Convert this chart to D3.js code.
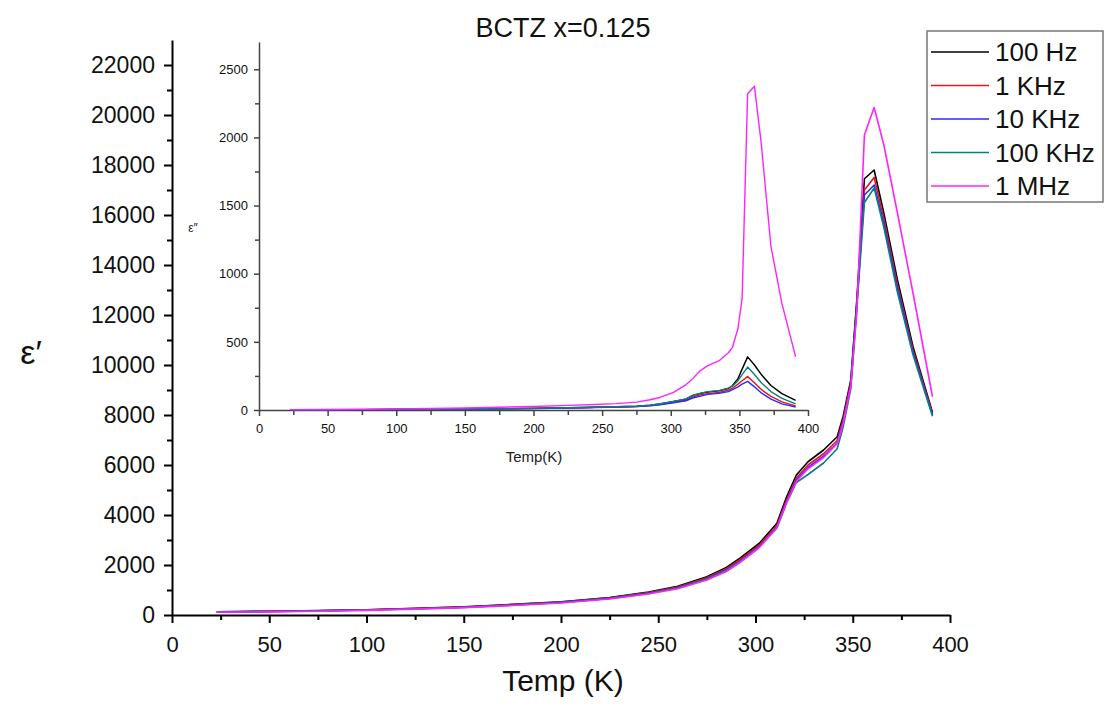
<!DOCTYPE html>
<html>
<head>
    <meta charset="utf-8">
    <title>BCTZ x=0.125</title>
    <script type="text/javascript" src="https://cdn.jsdelivr.net/npm/d3@7"></script>
    <style>
        body { margin: 0; background: #fff; }
        svg { font-family: Arial, "Liberation Sans", sans-serif; }
    </style>
</head>

<body>

<script type="text/javascript">
    // temperatures (K) shared by all series
    var temps = [23, 50, 75, 100, 125, 150, 175, 200, 225, 245, 260, 275, 285, 292, 302,
                 311, 316, 321, 327, 335, 342, 345, 349, 352, 356, 361, 366, 373, 381, 391];

    // real permittivity (main plot)
    var real100Hz  = [130, 150, 175, 210, 265, 330, 425, 530, 700, 920, 1150, 1530, 1900, 2270, 2870,
                      3670, 4730, 5600, 6130, 6600, 7130, 7930, 9400, 12500, 17450, 17800, 16070, 13400, 10730, 8100];
    var real1KHz   = [125, 145, 170, 205, 260, 320, 415, 520, 685, 900, 1120, 1490, 1850, 2210, 2800,
                      3580, 4620, 5480, 6000, 6450, 6980, 7800, 9300, 12400, 17000, 17500, 15850, 13200, 10600, 8050];
    var real10KHz  = [120, 140, 165, 200, 250, 310, 400, 505, 665, 870, 1090, 1450, 1800, 2150, 2740,
                      3520, 4540, 5400, 5900, 6350, 6880, 7700, 9200, 12300, 16800, 17200, 15650, 13050, 10500, 8000];
    var real100KHz = [120, 140, 165, 200, 250, 305, 395, 500, 660, 860, 1080, 1440, 1780, 2130, 2720,
                      3480, 4480, 5300, 5620, 6080, 6650, 7500, 9050, 12200, 16500, 17080, 15500, 12900, 10400, 7950];
    var real1MHz   = [110, 125, 150, 185, 235, 295, 380, 480, 640, 840, 1050, 1400, 1740, 2100, 2700,
                      3500, 4500, 5350, 5850, 6300, 6850, 7650, 9150, 12000, 19200, 20300, 18800, 16070, 12870, 8730];

    // imaginary permittivity (inset)
    var imag100Hz  = [1, 2, 3, 4, 5, 7, 9, 12, 16, 20, 24, 28, 36, 44, 62,
                      80, 105, 120, 132, 140, 158, 180, 230, 300, 390, 330, 260, 180, 120, 70];
    var imag1KHz   = [1, 2, 3, 4, 5, 7, 9, 11, 15, 19, 22, 26, 33, 40, 56,
                      72, 95, 110, 120, 128, 145, 160, 190, 215, 245, 200, 150, 100, 60, 30];
    var imag10KHz  = [1, 2, 3, 4, 5, 6, 8, 11, 14, 18, 21, 25, 31, 38, 52,
                      68, 88, 100, 115, 122, 135, 150, 170, 190, 210, 170, 125, 80, 45, 22];
    var imag100KHz = [1, 2, 3, 4, 5, 7, 9, 12, 16, 20, 24, 28, 36, 44, 62,
                      82, 108, 122, 135, 142, 160, 175, 215, 260, 315, 260, 200, 135, 85, 45];
    var imag1MHz   = [3, 4, 6, 8, 11, 15, 20, 26, 34, 40, 47, 58, 75, 92, 130,
                      185, 230, 285, 325, 360, 420, 460, 600, 820, 2320, 2375, 1950, 1200, 780, 390];

    var seriesNames  = ["100 Hz", "1 KHz", "10 KHz", "100 KHz", "1 MHz"];
    var seriesColors = ["#000000", "#e8141c", "#2a2aff", "#0a7f7f", "#ff22ff"];
    var realSeries = [real100Hz, real1KHz, real10KHz, real100KHz, real1MHz];
    var imagSeries = [imag100Hz, imag1KHz, imag10KHz, imag100KHz, imag1MHz];

    var mainXTicks = [0, 50, 100, 150, 200, 250, 300, 350, 400];
    var mainYTicks = [0, 2000, 4000, 6000, 8000, 10000, 12000, 14000, 16000, 18000, 20000, 22000];
    var insetYTicks = [0, 500, 1000, 1500, 2000, 2500];

    var width = 1104, height = 707;
    var plain = d3.format("d");

    var svg = d3.select("body").append("svg")
            .attr("width", width)
            .attr("height", height);

    var x = d3.scaleLinear().domain([0, 400]).range([172, 950]);
    var y = d3.scaleLinear().domain([0, 23000]).range([615, 40]);
    var xi = d3.scaleLinear().domain([0, 400]).range([259, 808]);
    var yi = d3.scaleLinear().domain([0, 2700]).range([410, 42]);

    function minorOf(ticks, step) {
        var out = [];
        for (var i = 0; i < ticks.length - 1; i++) out.push(ticks[i] + step);
        return out;
    }

    function styleAxis(g, size, color, width) {
        g.selectAll("path.domain").attr("stroke", color).attr("stroke-width", width);
        g.selectAll("line").attr("stroke", color).attr("stroke-width", width);
        g.selectAll("text").attr("fill", "#111").attr("font-size", size)
            .attr("font-family", "Arial, 'Liberation Sans', sans-serif");
    }

    function renderMainAxes() {
        var gx = svg.append("g").attr("transform", "translate(0,615)")
            .call(d3.axisBottom(x).tickValues(mainXTicks).tickFormat(plain)
                .tickSize(8).tickSizeOuter(0).tickPadding(13));
        styleAxis(gx, 22, "#000", 2);
        var gxm = svg.append("g").attr("transform", "translate(0,615)")
            .call(d3.axisBottom(x).tickValues(minorOf(mainXTicks, 25)).tickSize(5).tickFormat(""));
        gxm.select("path.domain").remove();
        styleAxis(gxm, 22, "#000", 2);

        var gy = svg.append("g").attr("transform", "translate(172,0)")
            .call(d3.axisLeft(y).tickValues(mainYTicks).tickFormat(plain)
                .tickSize(8).tickSizeOuter(0).tickPadding(9));
        styleAxis(gy, 23, "#000", 2);
        var gym = svg.append("g").attr("transform", "translate(172,0)")
            .call(d3.axisLeft(y).tickValues(minorOf(mainYTicks, 1000)).tickSize(5).tickFormat(""));
        gym.select("path.domain").remove();
        styleAxis(gym, 23, "#000", 2);

        svg.append("text").attr("x", 563).attr("y", 691)
            .attr("text-anchor", "middle").attr("font-size", 30).attr("fill", "#111")
            .text("Temp (K)");
        svg.append("text").attr("x", 31).attr("y", 364)
            .attr("text-anchor", "middle").attr("font-size", 34).attr("fill", "#111")
            .text("\u03b5\u2032");
        svg.append("text").attr("x", 563).attr("y", 37)
            .attr("text-anchor", "middle").attr("font-size", 27).attr("fill", "#111")
            .text("BCTZ x=0.125");
    }

    function renderInsetAxes() {
        var gx = svg.append("g").attr("transform", "translate(0,410)")
            .call(d3.axisBottom(xi).tickValues(mainXTicks).tickFormat(plain)
                .tickSize(6).tickSizeOuter(0).tickPadding(8));
        styleAxis(gx, 13, "#444", 1.5);
        var gxm = svg.append("g").attr("transform", "translate(0,410)")
            .call(d3.axisBottom(xi).tickValues(minorOf(mainXTicks, 25)).tickSize(5).tickFormat(""));
        gxm.select("path.domain").remove();
        styleAxis(gxm, 13, "#444", 1.5);

        var gy = svg.append("g").attr("transform", "translate(259,0)")
            .call(d3.axisLeft(yi).tickValues(insetYTicks).tickFormat(plain)
                .tickSize(5).tickSizeOuter(0).tickPadding(6));
        styleAxis(gy, 13, "#444", 1.5);
        var gym = svg.append("g").attr("transform", "translate(259,0)")
            .call(d3.axisLeft(yi).tickValues(minorOf(insetYTicks, 250)).tickSize(4).tickFormat(""));
        gym.select("path.domain").remove();
        styleAxis(gym, 13, "#444", 1.5);

        svg.append("text").attr("x", 534).attr("y", 462)
            .attr("text-anchor", "middle").attr("font-size", 15).attr("fill", "#222")
            .text("Temp(K)");
        svg.append("text").attr("x", 193).attr("y", 232)
            .attr("text-anchor", "middle").attr("font-size", 12).attr("fill", "#222")
            .text("\u03b5\u2033");
    }

    function renderLines(series, sx, sy, w) {
        var line = d3.line()
            .x(function(d, i) { return sx(temps[i]); })
            .y(function(d) { return sy(d); });
        series.forEach(function(vals, k) {
            svg.append("path")
                .datum(vals)
                .attr("d", line)
                .attr("fill", "none")
                .attr("stroke", seriesColors[k])
                .attr("stroke-width", w)
                .attr("stroke-linejoin", "round");
        });
    }

    function renderLegend() {
        var g = svg.append("g").attr("transform", "translate(927,31)");
        g.append("rect").attr("x", 0).attr("y", 0).attr("width", 176).attr("height", 171)
            .attr("fill", "#fff").attr("stroke", "#777").attr("stroke-width", 1.5);
        seriesNames.forEach(function(name, k) {
            var cy = 21 + k * 33.5;
            g.append("line").attr("x1", 4).attr("x2", 62).attr("y1", cy).attr("y2", cy)
                .attr("stroke", seriesColors[k]).attr("stroke-width", 1.5);
            g.append("text").attr("x", 68).attr("y", cy + 9)
                .attr("font-size", 26).attr("fill", "#111").text(name);
        });
    }

    renderMainAxes();
    renderInsetAxes();
    renderLines(imagSeries, xi, yi, 1.4);
    renderLines(realSeries, x, y, 1.6);
    renderLegend();
</script>

</body>

</html>
